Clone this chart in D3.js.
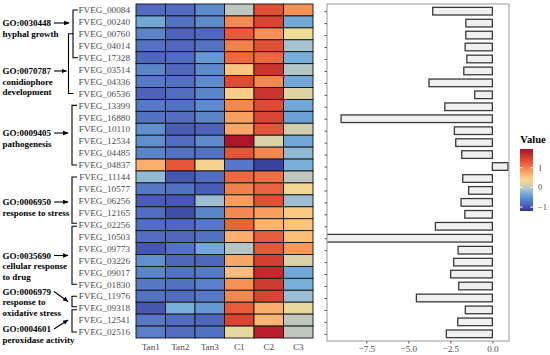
<!DOCTYPE html>
<html>
<head>
<meta charset="utf-8">
<script src="https://cdn.jsdelivr.net/npm/d3@7"></script>
<style>
  body { margin: 0; background: #fff; }
  svg text { font-family: "Liberation Serif", "DejaVu Serif", serif; }
</style>
</head>
<body>
<svg id="svg" width="550" height="355"></svg>
<script>
// gene ids, top to bottom
const genes = ["FVEG_00084","FVEG_00240","FVEG_00760","FVEG_04014","FVEG_17328","FVEG_03514","FVEG_04336","FVEG_06536",
  "FVEG_13399","FVEG_16880","FVEG_10110","FVEG_12534","FVEG_04485","FVEG_04837","FVEG_11144","FVEG_10577",
  "FVEG_06256","FVEG_12165","FVEG_02256","FVEG_10503","FVEG_09773","FVEG_03226","FVEG_09017","FVEG_01830",
  "FVEG_11976","FVEG_09318","FVEG_12541","FVEG_02516"];
const samples = ["Tan1","Tan2","Tan3","C1","C2","C3"];

// z-scores per sample (one array per column)
const tan1 = [-0.8,-0.35,-0.6,-0.75,-0.85,-0.6,-0.7,-0.9,-0.7,-0.75,-0.5,-0.5,-0.6,0.7,-0.2,-0.7,-0.95,-0.8,-0.8,-0.8,-1.0,-0.5,-0.6,-0.7,-0.75,-1.0,-0.7,-0.65];
const tan2 = [-0.8,-0.75,-0.9,-0.85,-0.8,-0.85,-0.75,-0.8,-0.75,-0.8,-0.95,-0.8,-0.75,1.3,-1.0,-0.75,-1.0,-1.05,-0.85,-0.85,-0.75,-0.85,-0.75,-0.75,-0.8,-0.3,-0.8,-0.8];
const tan3 = [-0.55,-0.55,-0.85,-0.75,-0.45,-0.55,-0.55,-0.6,-0.55,-0.6,-0.9,-0.55,-0.75,0.4,-0.8,-0.95,-0.15,-0.6,-0.7,-0.75,-0.35,-0.85,-0.7,-0.65,-0.7,-0.45,-0.85,-0.75];
const c1 = [0.0,0.95,1.25,1.0,1.15,0.55,1.4,0.45,0.95,0.8,0.75,1.9,1.3,-0.7,1.15,1.0,0.8,0.95,1.2,0.7,-0.05,0.75,0.6,0.9,0.95,1.25,1.45,0.25];
const c2 = [1.35,1.45,0.9,1.35,1.15,1.6,0.95,1.6,1.4,1.45,1.3,0.15,0.95,-1.1,1.1,1.2,1.35,0.8,0.65,1.25,1.3,1.5,1.7,1.55,1.45,0.7,0.65,1.8];
const c3 = [0.9,-0.35,0.3,-0.1,-0.3,-0.05,-0.35,0.2,-0.35,-0.4,0.1,-0.35,-0.2,-0.3,0.0,0.35,-0.15,0.5,0.55,0.6,0.85,0.15,-0.35,-0.3,-0.15,0.25,0.0,0.0];

// bar values (log2 fold change)
const fold = [-3.55,-1.58,-1.58,-1.62,-1.52,-1.7,-3.77,-1.05,-2.83,-9.0,-2.26,-2.18,-1.82,0.93,-1.76,-1.41,-1.86,-1.64,-3.39,-10.5,-2.04,-2.3,-2.48,-2.0,-4.52,-1.61,-2.06,-2.74];
const xTicks = [-7.5, -5.0, -2.5, 0.0];
const legendTicks = [-1, 0, 1];

// GO groups: first and last row index
const goIds = ["GO:0030448","GO:0070787","GO:0009405","GO:0006950","GO:0035690","GO:0006979","GO:0004601"];
const goNames = [["hyphal growth"],["conidiophore","development"],["pathogenesis"],["response to stress"],
  ["cellular response","to drug"],["response to","oxidative stress"],["peroxidase activity"]];
const goFrom = [0, 2, 8, 14, 18, 24, 25];
const goTo   = [4, 7, 13, 18, 23, 25, 27];

const columns = [tan1, tan2, tan3, c1, c2, c3];
const cells = [];
genes.forEach((g, r) => samples.forEach((s, c) => cells.push({gene: g, sample: s, v: columns[c][r]})));

const svg = d3.select("#svg");
const defs = svg.append("defs");

const color = d3.scaleLinear()
  .domain([-1.2, -1.0, -0.75, -0.5, -0.3, -0.1, 0.05, 0.3, 0.55, 0.85, 1.15, 1.5, 1.95])
  .range(["#2c2f8c","#4858b2","#5472c2","#6290ce","#78afd9","#a9c2cf","#c8cab4","#efdc98","#fdc47f","#f8985a","#ec6840","#d63f30","#a8102a"])
  .clamp(true);

// heatmap
const hx = d3.scaleBand().domain(samples).range([136, 313]);
const hy = d3.scaleBand().domain(genes).range([4, 338]);

svg.append("g").selectAll("rect")
  .data(cells).enter().append("rect")
  .attr("x", d => hx(d.sample))
  .attr("y", d => hy(d.gene))
  .attr("width", hx.bandwidth())
  .attr("height", hy.bandwidth())
  .attr("fill", d => color(d.v))
  .attr("stroke", "#111")
  .attr("stroke-width", 0.9);

// row labels
svg.append("g").selectAll("text")
  .data(genes).enter().append("text")
  .attr("x", 130)
  .attr("y", d => hy(d) + hy.bandwidth() / 2)
  .attr("dy", "0.35em")
  .attr("text-anchor", "end")
  .attr("font-size", 9.2)
  .attr("fill", "#4d4d4d")
  .text(d => d);

// column labels
svg.append("g").selectAll("text")
  .data(samples).enter().append("text")
  .attr("x", d => hx(d) + hx.bandwidth() / 2)
  .attr("y", 350)
  .attr("text-anchor", "middle")
  .attr("font-size", 9.2)
  .attr("fill", "#4d4d4d")
  .text(d => d);

// brackets + GO annotation
const rowMid = i => hy(genes[i]) + hy.bandwidth() / 2;
const brX   = [73, 68.5, 72, 72, 72, 72, 72];
const topOff = [0, 0, 0, 0, 1.5, 0, 1.5];
const botOff = [0, 0, 0, -1.5, 0, -1.5, 0];
const labY  = [23, 71, 133, 202, 255.5, 291.5, 329];
const tipY  = [23, 71, 133, 202, 255.5, 301.5, 320];
const tipX  = [69, 66.5, 68, 68, 68, 68, 68];

defs.append("marker").attr("id", "arr")
  .attr("viewBox", "0 0 10 10").attr("refX", 9).attr("refY", 5)
  .attr("markerWidth", 5).attr("markerHeight", 5).attr("orient", "auto")
  .append("path").attr("d", "M0,1 L10,5 L0,9 Z").attr("fill", "#000");

const ann = svg.append("g");
goIds.forEach((id, i) => {
  const y0 = rowMid(goFrom[i]) + topOff[i];
  const y1 = rowMid(goTo[i]) + botOff[i];
  const x = brX[i];
  ann.append("path")
    .attr("d", `M${x + 5},${y0} H${x} V${y1} H${x + 5}`)
    .attr("fill", "none").attr("stroke", "#000").attr("stroke-width", 1.1);
  ann.append("line")
    .attr("x1", 54).attr("y1", labY[i]).attr("x2", tipX[i]).attr("y2", tipY[i])
    .attr("stroke", "#000").attr("stroke-width", 1.1).attr("marker-end", "url(#arr)");
  const lines = [id].concat(goNames[i]);
  lines.forEach((t, k) => {
    ann.append("text")
      .attr("x", 2.5)
      .attr("y", labY[i] + k * 10.6)
      .attr("dy", "0.35em")
      .attr("font-size", 9)
      .attr("font-weight", "bold")
      .attr("fill", "#000")
      .text(t);
  });
});

// bar panel
const px0 = 327, px1 = 509, py0 = 4, py1 = 341;
const bx = d3.scaleLinear().domain([-9.84, 0.99]).range([px0, px1]);
const by = d3.scalePoint().domain(genes).range([py0, py1]).padding(0.6);

defs.append("clipPath").attr("id", "panel")
  .append("rect").attr("x", px0).attr("y", py0).attr("width", px1 - px0).attr("height", py1 - py0);

const barH = by.step() * 0.64;
svg.append("g").attr("clip-path", "url(#panel)").selectAll("rect")
  .data(genes).enter().append("rect")
  .attr("x", (d, i) => bx(Math.min(0, fold[i])))
  .attr("y", d => by(d) - barH / 2)
  .attr("width", (d, i) => Math.abs(bx(fold[i]) - bx(0)))
  .attr("height", barH)
  .attr("fill", "#f0f0f0")
  .attr("stroke", "#3a3a3a")
  .attr("stroke-width", 1.3);

svg.append("rect")
  .attr("x", px0).attr("y", py0).attr("width", px1 - px0).attr("height", py1 - py0)
  .attr("fill", "none").attr("stroke", "#9a9a9a").attr("stroke-width", 1);

// y ticks (no labels)
const yAxis = svg.append("g").attr("transform", `translate(${px0},0)`)
  .call(d3.axisLeft(by).tickSize(2.5).tickFormat(""));
yAxis.select(".domain").remove();
yAxis.selectAll("line").attr("stroke", "#555");

const xAxis = svg.append("g").attr("transform", `translate(0,${py1})`)
  .call(d3.axisBottom(bx).tickValues(xTicks).tickSize(2.5).tickFormat(d3.format(".1f")));
xAxis.attr("font-family", null);
xAxis.select(".domain").remove();
xAxis.selectAll("line").attr("stroke", "#555");
xAxis.selectAll("text")
  .attr("font-size", 9.2)
  .attr("fill", "#4d4d4d")
  .attr("y", 4);

// legend
const lg = svg.append("g");
lg.append("text").attr("x", 533).attr("y", 139).attr("dy", "0.35em")
  .attr("text-anchor", "middle").attr("font-size", 10.5).attr("font-weight", "bold").text("Value");

const ly = d3.scaleLinear().domain([-1.2, 1.95]).range([211, 149]);
const grad = defs.append("linearGradient").attr("id", "lgrad")
  .attr("x1", 0).attr("y1", 1).attr("x2", 0).attr("y2", 0);
d3.range(0, 1.0001, 0.05).forEach(t => {
  grad.append("stop").attr("offset", t).attr("stop-color", color(-1.2 + t * 3.15));
});
lg.append("rect").attr("x", 520).attr("y", 149).attr("width", 13).attr("height", 62)
  .attr("fill", "url(#lgrad)");
legendTicks.forEach(t => {
  lg.append("line").attr("x1", 520).attr("x2", 522.5).attr("y1", ly(t)).attr("y2", ly(t)).attr("stroke", "#fff");
  lg.append("line").attr("x1", 530.5).attr("x2", 533).attr("y1", ly(t)).attr("y2", ly(t)).attr("stroke", "#fff");
  lg.append("text").attr("x", 538).attr("y", ly(t)).attr("dy", "0.35em")
    .attr("font-size", 8.5).attr("fill", "#4d4d4d").text(String(t).replace("-", "\u2212"));
});
</script>
</body>
</html>
